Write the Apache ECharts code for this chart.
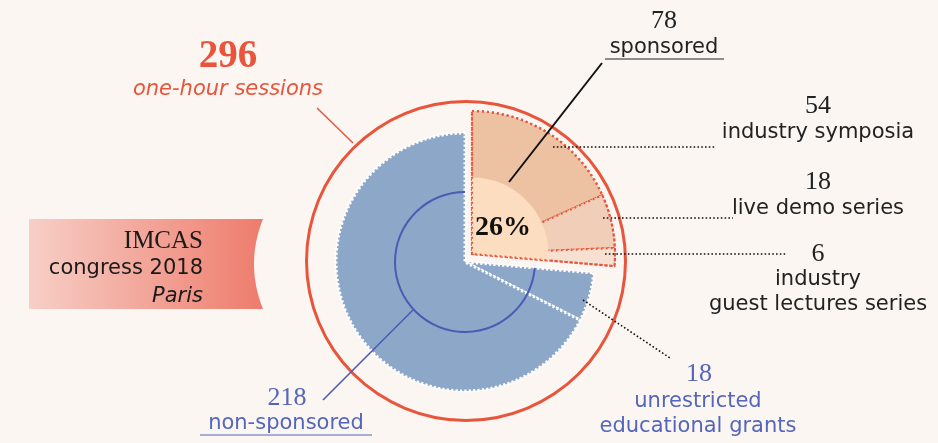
<!DOCTYPE html>
<html>
<head>
<meta charset="utf-8">
<script src="https://cdn.jsdelivr.net/npm/echarts@6/dist/echarts.min.js"></script>
<style>
  html, body { margin: 0; padding: 0; background: #FBF6F2; }
  #chart { width: 938px; height: 443px; }
</style>
</head>
<body>
<div id="chart"></div>
<script>
// data
var sliceNames = ['industry symposia', 'live demo series', 'industry guest lectures series', 'unrestricted educational grants', 'other non-sponsored'];
var sliceValues = [54, 18, 6, 18, 200];
var sliceSponsored = [true, true, true, false, false];
var sponsoredFills = ['#EDC2A3', '#F1CEB7', '#F5E0D2'];

var RED = '#E9553B';
var BLUE_TXT = '#5466BA';
var DARK_BLUE = '#4A5BB5';
var SANS = '"DejaVu Sans", sans-serif';
var SERIF = '"Liberation Serif", serif';

var sponsoredTotal = 0, nonSponsoredTotal = 0;
for (var i = 0; i < sliceValues.length; i++) {
    if (sliceSponsored[i]) sponsoredTotal += sliceValues[i];
    else nonSponsoredTotal += sliceValues[i];
}
var total = sponsoredTotal + nonSponsoredTotal;

var hidden = { color: 'transparent', borderWidth: 0 };
var redDots = { borderColor: RED, borderWidth: 2.2, borderType: [2, 3] };

// blue part: grants + rest
var blueData = sliceValues.map(function (v, i) {
    return {
        name: sliceNames[i], value: v,
        itemStyle: sliceSponsored[i] ? hidden : {
            color: '#8CA7C8', borderColor: '#ffffff', borderWidth: 3,
            borderType: [2.2, 2.2]
        }
    };
});
// sponsored part, pulled out a bit
var k = 0;
var sponsData = sliceValues.map(function (v, i) {
    return {
        name: sliceNames[i], value: v,
        itemStyle: !sliceSponsored[i] ? hidden : Object.assign({ color: sponsoredFills[k++] }, redDots)
    };
});
var twoPart = function (sponsStyle, nonStyle) {
    return [
        { name: 'sponsored', value: sponsoredTotal, itemStyle: sponsStyle },
        { name: 'non-sponsored', value: nonSponsoredTotal, itemStyle: nonStyle }
    ];
};

var basePie = {
    type: 'pie', silent: true, startAngle: 90, clockwise: true,
    label: { show: false }, labelLine: { show: false },
    emphasis: { disabled: true }, animation: false
};
function pie(extra) { return Object.assign({}, basePie, extra); }

function txt(x, y, text, font, fill, align) {
    return {
        type: 'text', z: 100, silent: true,
        style: {
            x: x, y: y, text: text, font: font, fill: fill,
            align: align || 'center', verticalAlign: 'middle',
            textAlign: align || 'center', textVerticalAlign: 'middle'
        }
    };
}
function line(x1, y1, x2, y2, color, width, dash) {
    return {
        type: 'line', z: 90, silent: true,
        shape: { x1: x1, y1: y1, x2: x2, y2: y2 },
        style: { stroke: color, lineWidth: width, lineDash: dash || null }
    };
}
var dots = [1.6, 2.2];

// ribbon box with a concave right end
var boxPts = [[29, 219], [263, 219]];
for (var t = 0.05; t < 1; t += 0.05) {
    var px = (1 - t) * (1 - t) * 263 + 2 * t * (1 - t) * 245 + t * t * 263;
    var py = (1 - t) * (1 - t) * 219 + 2 * t * (1 - t) * 264 + t * t * 309;
    boxPts.push([px, py]);
}
boxPts.push([263, 309], [29, 309]);

var chart = echarts.init(document.getElementById('chart'));
chart.setOption({
    backgroundColor: '#FBF6F2',
    animation: false,
    series: [
        pie({ z: 1, center: [466, 261], radius: [158, 161],
              data: [{ name: 'all sessions', value: total, itemStyle: { color: RED } }] }),
        pie({ z: 2, center: [465, 262], radius: [0, 129], data: blueData }),
        pie({ z: 3, center: [465, 262], radius: [69, 71],
              data: twoPart(hidden, { color: DARK_BLUE }) }),
        pie({ z: 4, center: [472, 254], radius: [0, 143], data: sponsData }),
        pie({ z: 5, center: [472, 254], radius: [0, 76.5],
              data: twoPart({ color: '#FCDDC0' }, hidden) }),
        pie({ z: 6, center: [472, 254], radius: [0, 143],
              data: twoPart(Object.assign({ color: 'transparent' }, redDots), hidden) })
    ],
    graphic: [
        {
            type: 'polygon', z: 0, silent: true,
            shape: { points: boxPts },
            style: {
                fill: {
                    type: 'linear', x: 0, y: 0, x2: 1, y2: 0,
                    colorStops: [
                        { offset: 0, color: '#F7CFC7' },
                        { offset: 1, color: '#EE7C6C' }
                    ]
                }
            }
        },
        txt(203, 241, 'IMCAS', '25px ' + SERIF, '#1a1a1a', 'right'),
        txt(203, 269, 'congress 2018', '21px ' + SANS, '#1a1a1a', 'right'),
        txt(203, 297, 'Paris', 'italic 21px ' + SANS, '#1a1a1a', 'right'),

        txt(228, 57, String(total), 'bold 39px ' + SERIF, RED),
        txt(228, 90, 'one-hour sessions', 'italic 21px ' + SANS, RED),
        line(317, 108, 353, 143, RED, 1.5),

        txt(664, 21, String(sponsoredTotal), '26px ' + SERIF, '#222'),
        txt(664, 48, 'sponsored', '21px ' + SANS, '#222'),
        line(605, 59, 724, 59, '#222', 1.2),
        line(602, 63, 509, 182, '#111', 2),

        txt(503, 228, Math.round(sponsoredTotal / total * 100) + '%', 'bold 28px ' + SERIF, '#111'),

        txt(818, 106, String(sliceValues[0]), '26px ' + SERIF, '#222'),
        txt(818, 133, sliceNames[0], '21px ' + SANS, '#222'),
        line(553, 147, 715, 147, '#111', 1.6, dots),

        txt(818, 182, String(sliceValues[1]), '26px ' + SERIF, '#222'),
        txt(818, 209, sliceNames[1], '21px ' + SANS, '#222'),
        line(603, 218, 733, 218, '#111', 1.6, dots),

        txt(818, 254, String(sliceValues[2]), '26px ' + SERIF, '#222'),
        txt(818, 280, 'industry', '21px ' + SANS, '#222'),
        txt(818, 305, 'guest lectures series', '21px ' + SANS, '#222'),
        line(605, 254, 787, 254, '#111', 1.6, dots),

        txt(699, 374, String(sliceValues[3]), '26px ' + SERIF, BLUE_TXT),
        txt(698, 402, 'unrestricted', '21px ' + SANS, BLUE_TXT),
        txt(698, 427, 'educational grants', '21px ' + SANS, BLUE_TXT),
        line(583, 300, 670, 358, '#111', 1.6, dots),

        txt(287, 398, String(nonSponsoredTotal), '26px ' + SERIF, BLUE_TXT),
        txt(286, 424, 'non-sponsored', '21px ' + SANS, BLUE_TXT),
        line(200, 435, 372, 435, BLUE_TXT, 1.2),
        line(323, 400, 413, 310, DARK_BLUE, 1.6)
    ]
});
</script>
</body>
</html>
